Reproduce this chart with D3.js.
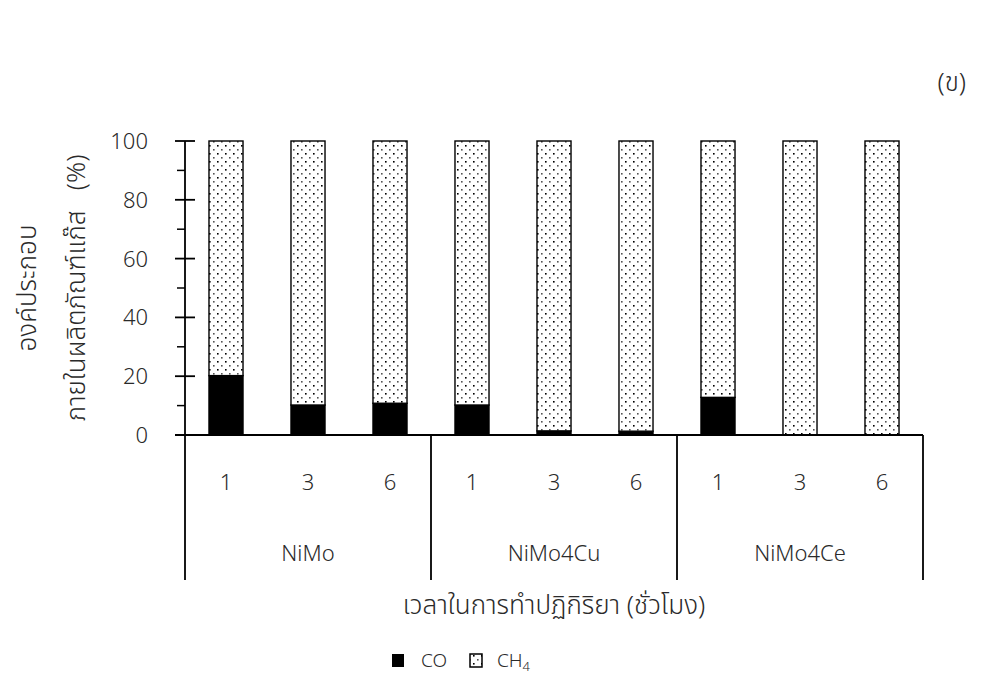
<!DOCTYPE html>
<html>
<head>
<meta charset="utf-8">
<script src="https://cdn.jsdelivr.net/npm/d3@7"></script>
<style>
  html, body { margin: 0; padding: 0; background: #fff; }
  svg text { font-family: "Noto Sans", "Noto Sans Thai", "Open Sans", sans-serif; font-weight: 300; fill: #2a2a2a; }
</style>
</head>
<body>
<svg id="chart" width="982" height="678"></svg>
<script>
// Catalysts, reaction times and gas product composition (%)
const catalysts = ["NiMo", "NiMo4Cu", "NiMo4Ce"];
const hours = ["1", "3", "6"];
const coValues  = [20.2, 10.2, 10.8, 10.2, 1.4, 1.3, 12.8, 0, 0];
const ch4Values = [79.8, 89.8, 89.2, 89.8, 98.6, 98.7, 87.2, 100, 100];
const yTicks = [0, 20, 40, 60, 80, 100];
const yMinorTicks = [10, 30, 50, 70, 90];

const rows = [];
catalysts.forEach((c, i) => hours.forEach((h, j) => {
  const k = i * hours.length + j;
  rows.push({ key: c + "-" + h, catalyst: c, hour: h, CO: coValues[k], CH4: ch4Values[k] });
}));

const svg = d3.select("#chart");
const plotLeft = 185, plotRight = 923, plotTop = 141, plotBase = 435, catBottom = 580;
const thaiSize = 26;

// dotted fill used for the CH4 segment
const defs = svg.append("defs");
const pat = defs.append("pattern").attr("id", "dots")
  .attr("patternUnits", "userSpaceOnUse").attr("width", 8).attr("height", 8);
pat.append("rect").attr("width", 8).attr("height", 8).attr("fill", "#fff");
pat.append("rect").attr("x", 1).attr("y", 1).attr("width", 1.6).attr("height", 1.6).attr("fill", "#000");
pat.append("rect").attr("x", 5).attr("y", 5).attr("width", 1.6).attr("height", 1.6).attr("fill", "#555");

const x = d3.scaleBand().domain(rows.map(d => d.key))
  .range([plotLeft, plotRight]).paddingInner(0.585).paddingOuter(0.2925);
const y = d3.scaleLinear().domain([0, 100]).range([plotBase, plotTop]);

const stack = d3.stack().keys(["CO", "CH4"])(rows);
const fills = { CO: "#000", CH4: "url(#dots)" };

svg.append("g").selectAll("g").data(stack).join("g")
  .attr("fill", d => fills[d.key])
  .selectAll("rect").data(d => d.filter(s => s[1] - s[0] > 0)).join("rect")
  .attr("x", d => x(d.data.key))
  .attr("y", d => y(d[1]))
  .attr("width", x.bandwidth())
  .attr("height", d => y(d[0]) - y(d[1]))
  .attr("stroke", "#000").attr("stroke-width", 1.4);

// value axis
const ya = svg.append("g").attr("transform", `translate(${plotLeft},0)`);
ya.append("line").attr("y1", plotTop).attr("y2", catBottom).attr("stroke", "#000").attr("stroke-width", 1.8);
ya.selectAll(".maj").data(yTicks).join("line")
  .attr("x1", -10).attr("x2", 10).attr("y1", d => y(d)).attr("y2", d => y(d))
  .attr("stroke", "#000").attr("stroke-width", 1.8);
ya.selectAll(".min").data(yMinorTicks).join("line")
  .attr("x1", -8).attr("x2", 0).attr("y1", d => y(d)).attr("y2", d => y(d))
  .attr("stroke", "#000").attr("stroke-width", 1.5);
ya.selectAll("text").data(yTicks).join("text")
  .attr("x", -37).attr("y", d => y(d)).attr("dy", "0.36em")
  .attr("text-anchor", "end").attr("font-size", 22).text(d => d);

// category axis with grouped labels
const xa = svg.append("g");
xa.append("line").attr("x1", plotLeft - 10).attr("x2", plotRight).attr("y1", plotBase).attr("y2", plotBase)
  .attr("stroke", "#000").attr("stroke-width", 1.8);
const groupEdges = catalysts.map(c => x(c + "-" + hours[0]) - x.step() * x.paddingInner() / 2);
groupEdges.push(plotRight);
xa.selectAll(".sep").data(groupEdges.slice(1)).join("line")
  .attr("x1", d => d).attr("x2", d => d).attr("y1", plotBase).attr("y2", catBottom)
  .attr("stroke", "#000").attr("stroke-width", 1.8);
xa.selectAll(".hr").data(rows).join("text")
  .attr("x", d => x(d.key) + x.bandwidth() / 2).attr("y", 490)
  .attr("text-anchor", "middle").attr("font-size", 22).text(d => d.hour);
xa.selectAll(".cat").data(catalysts).join("text")
  .attr("x", (d, i) => (groupEdges[i] + groupEdges[i + 1]) / 2).attr("y", 561)
  .attr("text-anchor", "middle").attr("font-size", 22).text(d => d);

// axis titles
svg.append("text").attr("x", (plotLeft + plotRight) / 2).attr("y", 614)
  .attr("text-anchor", "middle").attr("font-size", thaiSize).text("เวลาในการทำปฏิกิริยา (ชั่วโมง)");
const yt = svg.append("g").attr("transform", `translate(0,${(plotTop + plotBase) / 2}) rotate(-90)`);
yt.append("text").attr("x", 0).attr("y", 36).attr("text-anchor", "middle").attr("font-size", thaiSize).text("องค์ประกอบ");
yt.append("text").attr("x", 0).attr("y", 85).attr("text-anchor", "middle").attr("font-size", thaiSize)
  .style("white-space", "pre").text("ภายในผลิตภัณฑ์แก๊ส   (%)");

svg.append("text").attr("x", 966).attr("y", 91).attr("text-anchor", "end").attr("font-size", thaiSize).text("(ข)");

// legend
const lg = svg.append("g").attr("transform", "translate(392,654)");
lg.append("rect").attr("width", 12).attr("height", 13).attr("fill", "#000");
lg.append("text").attr("x", 29).attr("y", 13).attr("font-size", 19).text("CO");
lg.append("rect").attr("x", 78).attr("width", 12).attr("height", 13).attr("fill", "url(#dots)")
  .attr("stroke", "#000").attr("stroke-width", 1.5);
const ch = lg.append("text").attr("x", 105).attr("y", 13).attr("font-size", 19);
ch.append("tspan").text("CH");
ch.append("tspan").attr("font-size", 13).attr("dy", 4).text("4");
</script>
</body>
</html>
